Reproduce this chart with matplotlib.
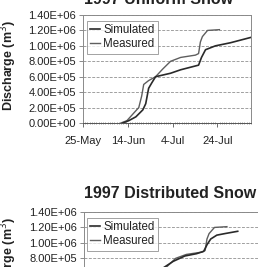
import matplotlib.pyplot as plt
import numpy as np

# days counted from 25-May-1997
tick_days = [0, 20, 40, 60]
tick_labels = ['25-May', '14-Jun', '4-Jul', '24-Jul']
y_ticks = [0, 2e5, 4e5, 6e5, 8e5, 1e6, 1.2e6, 1.4e6]

# measured cumulative discharge (same in both panels)
meas_day = [16.9, 19.6, 22.7, 24.9, 26.2, 27.1, 29.3, 32.4, 35.6, 39.1, 43.6, 50.2, 51.6, 52.4, 53.3, 55.6, 60.9]
meas_q = [0, 0.03e6, 0.13e6, 0.2e6, 0.35e6, 0.5e6, 0.55e6, 0.6e6, 0.7e6, 0.8e6, 0.85e6, 0.88e6, 0.9e6, 1.05e6, 1.12e6, 1.2e6, 1.21e6]

# simulated, uniform snow
uni_day = [17.8, 20.4, 23.6, 26.7, 28.0, 29.3, 30.7, 32.4, 39.1, 43.6, 51.6, 52.9, 54.7, 59.1, 65.8, 75.0]
uni_q = [0, 0.03e6, 0.08e6, 0.17e6, 0.25e6, 0.45e6, 0.52e6, 0.6e6, 0.645e6, 0.69e6, 0.75e6, 0.85e6, 0.95e6, 1.0e6, 1.04e6, 1.11e6]

# simulated, distributed snow
dist_day = [17.5, 20.0, 23.0, 26.0, 28.0, 30.0, 33.0, 38.0, 43.0, 48.0, 51.0, 52.5, 54.0, 56.6, 60.0, 65.5]
dist_q = [0, 0.03e6, 0.12e6, 0.25e6, 0.42e6, 0.55e6, 0.66e6, 0.76e6, 0.83e6, 0.86e6, 0.89e6, 0.98e6, 1.05e6, 1.10e6, 1.12e6, 1.15e6]

plt.rcParams.update({
    "font.family": "Liberation Sans",
    "text.color": "#222222",
    "axes.labelcolor": "#222222",
    "xtick.color": "#222222",
    "ytick.color": "#222222",
})

fig = plt.figure(figsize=(2.58, 2.67), dpi=100)
W, H = 258.0, 267.0


def panel(left, right, top, sim_day, sim_q, title, tx, ty, show_x=True):
    bottom = top + 108
    ax = fig.add_axes([left / W, (H - bottom) / H, (right - left) / W, 108 / H])
    ax.plot(meas_day, meas_q, color='#5e5e5e', lw=1.0, label='Measured', zorder=3)
    ax.plot(sim_day, sim_q, color='#2a2a2a', lw=1.2, label='Simulated', zorder=4)
    ax.set_xlim(0, 75)
    ax.set_ylim(0, 1.4e6)
    ax.set_yticks(y_ticks)
    ax.set_yticklabels([f'{v:.2E}' for v in y_ticks])
    ax.set_xticks(tick_days)
    ax.set_xticklabels(tick_labels)
    ax.set_xticks(np.arange(0, 76, 1), minor=True)
    ax.tick_params(axis='y', labelsize=8, length=3, width=0.6, pad=2, color='#777777')
    ax.tick_params(axis='x', which='major', labelsize=8, length=3, width=0.6, pad=6,
                   color='#555555', labelbottom=show_x)
    ax.tick_params(axis='x', which='minor', length=2, width=0.4, direction='inout', color='#555555')
    ax.grid(axis='y', color='#a0a0a0', lw=0.7, linestyle=(0, (3, 1.5)))
    for s in ax.spines.values():
        s.set_color('#8a8a8a')
        s.set_linewidth(0.7)
    ax.spines['bottom'].set_color('#555555')
    ax.set_ylabel('Discharge (m$^3$)', fontsize=9, fontweight='bold')
    ax.yaxis.set_label_coords((19 - left) / (right - left), 0.53)
    h, l = ax.get_legend_handles_labels()
    leg = ax.legend(h[::-1], l[::-1], loc='upper left',
                    bbox_to_anchor=((87 - left) / (right - left), (bottom - top - 6) / 108),
                    fontsize=8.3, frameon=True, fancybox=False, edgecolor='#777777',
                    handlelength=0.8, handletextpad=0.3, borderpad=0.3,
                    labelspacing=0.15, borderaxespad=0)
    leg.get_frame().set_linewidth(0.6)
    fig.text(tx / W, (H - ty) / H, title, fontsize=11.5, fontweight='bold',
             ha='center', va='baseline')
    return ax


panel(83, 251, 15, uni_day, uni_q, '1997 Uniform Snow', 159, 4.5)
# lower panel runs past the bottom edge of the page, as in the scan
panel(84, 260, 212, dist_day, dist_q, '1997 Distributed Snow', 170, 198, show_x=False)

fig.savefig('out.png', dpi=100)
